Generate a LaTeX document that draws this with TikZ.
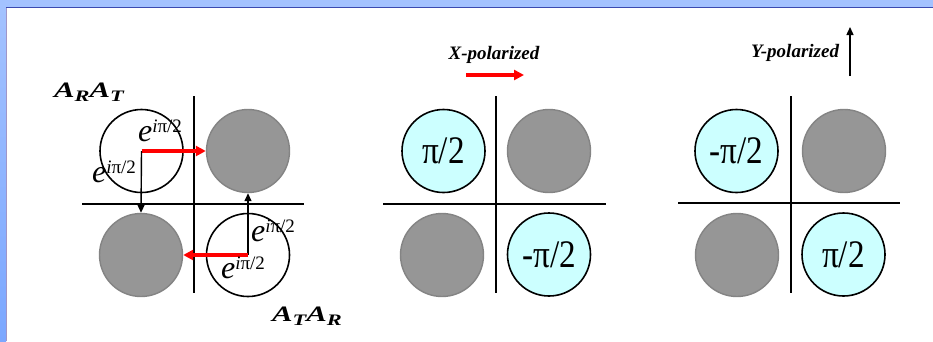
\documentclass[tikz,border=0pt]{standalone}
\usepackage{fontspec}
\setmainfont{Liberation Serif}
\newfontfamily\phasefont[FakeStretch=0.85]{Liberation Serif}
\newfontfamily\ampfont[FakeStretch=1.4]{Liberation Serif}
\usepackage{xcolor}
\usepackage{tikz}
\usetikzlibrary{arrows.meta, positioning, calc}

\definecolor{bandblue}{HTML}{A3C2FF}
\definecolor{banddark}{HTML}{7BA7FF}
\definecolor{bandline}{HTML}{3A4AB0}
\definecolor{sideline}{HTML}{A096C8}
\definecolor{phasecyan}{HTML}{CCFFFF}
\definecolor{holegrey}{HTML}{969696}
\definecolor{holeedge}{HTML}{848484}

\newcommand{\ephase}{{\fontsize{32}{32}\selectfont\itshape e\raisebox{9pt}{\fontsize{19}{19}\selectfont i\upshape π/2}}}
\newcommand{\ampl}[2]{{\ampfont\fontsize{22}{22}\selectfont\bfseries\itshape A\raisebox{-4pt}{\fontsize{16}{16}\selectfont #1}A\raisebox{-4pt}{\fontsize{16}{16}\selectfont #2}}}

\begin{document}
\begin{tikzpicture}[x=1pt, y=-1pt]
    % Define styles
    \tikzstyle{hole} = [circle, draw=holeedge, fill=holegrey, line width=1.4pt, minimum size=83pt, inner sep=0pt]
    \tikzstyle{open} = [circle, draw=black, fill=white, line width=1.6pt, minimum size=83pt, inner sep=0pt]
    \tikzstyle{phase} = [circle, draw=black, fill=phasecyan, line width=1.6pt, minimum size=83pt, inner sep=0pt, font=\phasefont\fontsize{39}{40}\selectfont]
    \tikzstyle{axis} = [line width=1.2pt]
    \tikzstyle{redarrow} = [-{Triangle[length=10pt, width=10pt]}, red, line width=3.5pt]
    \tikzstyle{blackarrow} = [-{Triangle[length=8pt, width=7pt]}, line width=1.4pt]
    \tikzstyle{label} = [inner sep=0pt, font=\fontsize{19}{19}\selectfont\bfseries\itshape]

    % Background and frame
    \useasboundingbox (0,0) rectangle (933,341);
    \fill[white] (0,0) rectangle (933,341);
    \fill[bandblue] (0,0) rectangle (933,7);
    \shade[top color=bandblue, bottom color=banddark] (0,7) rectangle (6,341);
    \draw[bandline, line width=1.3pt] (6,7.5) -- (933,7.5);
    \draw[sideline, line width=1.3pt] (6.5,8) -- (6.5,341);

    % Left panel: transmission paths
    \draw[axis] (194,96) -- (194,293);
    \draw[axis] (82,204) -- (304,204);
    \node[open] (ltl) at (141.5,151) {};
    \node[hole] (ltr) at (248,151) {};
    \node[hole] (lbl) at (141,255) {};
    \node[open] (lbr) at (248,255) {};
    \node[inner sep=0pt] (art) at (89,92) {\ampl{R}{T}};
    \node[inner sep=0pt] (atr) at (307,316) {\ampl{T}{R}};

    \draw[redarrow] (ltl.center) -- (ltr.west);
    \draw[blackarrow] (ltl.center) -- (lbl.north);
    \draw[blackarrow] (lbr.center) -- (ltr.south);
    \draw[redarrow] (lbr.center) -- (lbl.east);

    \node[inner sep=0pt] (e1) at (160,131) {\ephase};
    \node[inner sep=0pt] (e2) at (114,172) {\ephase};
    \node[inner sep=0pt] (e3) at (273,231) {\ephase};
    \node[inner sep=0pt] (e4) at (243,268) {\ephase};

    % Middle panel: X-polarized
    \draw[axis] (496,96) -- (496,293);
    \draw[axis] (383,204) -- (606,204);
    \node[phase] (mtl) at (443.5,151) {π/2};
    \node[hole] (mtr) at (549,151) {};
    \node[hole] (mbl) at (442,255) {};
    \node[phase] (mbr) at (549,254.5) {-π/2};
    \node[label] (xpol) at (494,55) {X-polarized};
    \coordinate (xs) at (466,75);
    \coordinate (xe) at (524,75);
    \draw[redarrow] (xs) -- (xe);

    % Right panel: Y-polarized
    \draw[axis] (791,96) -- (791,293);
    \draw[axis] (678,203) -- (900,203);
    \node[phase] (rtl) at (736.5,151) {-π/2};
    \node[hole] (rtr) at (844,151) {};
    \node[hole] (rbl) at (737,255) {};
    \node[phase] (rbr) at (843.5,254.5) {π/2};
    \node[label] (ypol) at (795,53) {Y-polarized};
    \coordinate (ys) at (850,76);
    \coordinate (ye) at (850,27);
    \draw[blackarrow] (ys) -- (ye);

\end{tikzpicture}
\end{document}
